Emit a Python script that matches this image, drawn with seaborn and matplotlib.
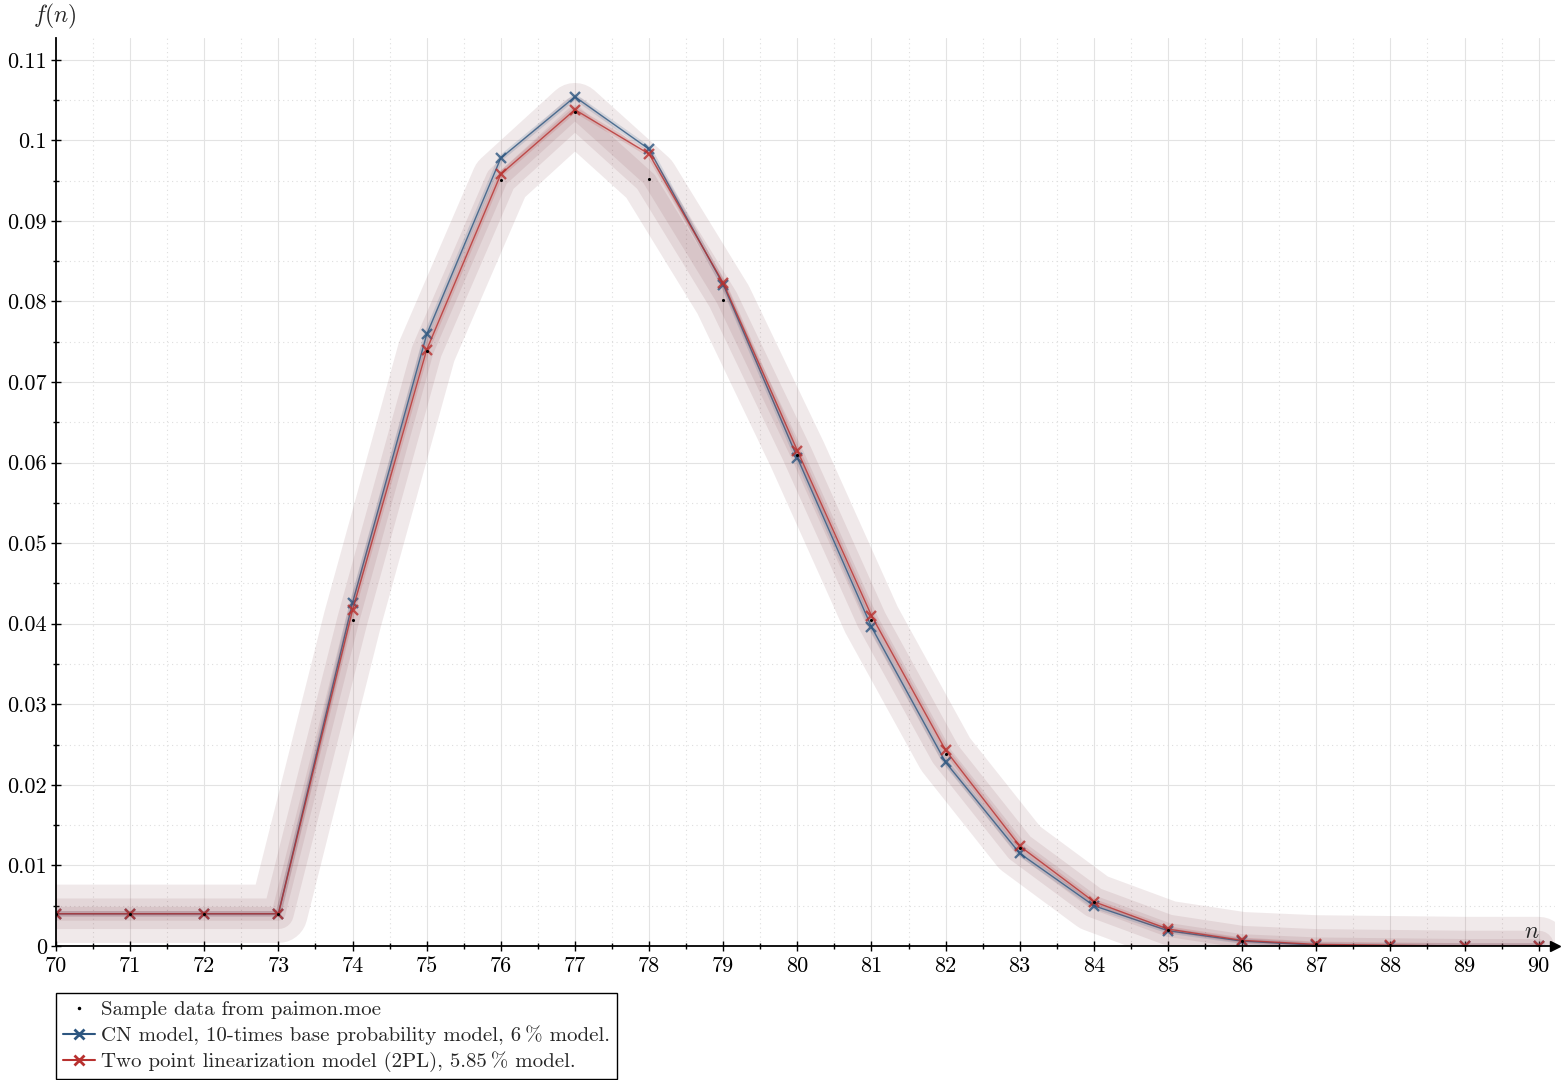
import matplotlib
matplotlib.use('Agg')
import matplotlib.pyplot as plt
from matplotlib.lines import Line2D
from matplotlib.ticker import MultipleLocator, FuncFormatter
import numpy as np
import pandas as pd
import seaborn as sns

# pity counts and probabilities
pulls = list(range(70, 91))
sample = [0.0040, 0.0040, 0.0040, 0.0040, 0.0405, 0.0738, 0.0951, 0.1035, 0.0952,
          0.0802, 0.0610, 0.0405, 0.0238, 0.0122, 0.0054, 0.0020, 0.0006, 0.0002,
          0.0001, 0.0000, 0.0000]
cn_model = [0.0040, 0.0040, 0.0040, 0.0040, 0.0426, 0.0759, 0.0978, 0.1054, 0.0989,
            0.0821, 0.0606, 0.0396, 0.0228, 0.0115, 0.0050, 0.0019, 0.0006, 0.0001,
            0.0000, 0.0000, 0.0000]
tpl_model = [0.0040, 0.0040, 0.0040, 0.0040, 0.0417, 0.0740, 0.0958, 0.1038, 0.0983,
             0.0823, 0.0615, 0.0410, 0.0243, 0.0124, 0.0055, 0.0021, 0.0007, 0.0002,
             0.0001, 0.0000, 0.0000]

labels = ['Sample data from paimon.moe',
          'CN model, 10-times base probability model, 6\u2009% model.',
          'Two point linearization model (2PL), 5.85\u2009% model.']

blue = '#2d5680'
red = '#b8312f'
band = '#8a4e56'

df = pd.DataFrame({'n': pulls, 'sample': sample, 'cn': cn_model, 'tpl': tpl_model})

sns.set_theme(style='white')
plt.rcParams['font.family'] = ['cmr10', 'DejaVu Serif']
plt.rcParams['mathtext.fontset'] = 'cm'
plt.rcParams['axes.unicode_minus'] = False

fig = plt.figure(figsize=(15.61, 10.8), dpi=100)
ax = fig.add_axes([56 / 1561, 134 / 1080, 1499 / 1561, 908 / 1080])

# shaded bands around the sample data (wide translucent strokes)
for lw in [42, 22, 10]:
    sns.lineplot(data=df, x='n', y='sample', ax=ax, color=band, alpha=0.12, lw=lw,
                 solid_capstyle='round', solid_joinstyle='round', estimator=None,
                 sort=False, legend=False)

# model curves with a soft halo
for col, c in [('cn', blue), ('tpl', red)]:
    sns.lineplot(data=df, x='n', y=col, ax=ax, color=c, alpha=0.15, lw=4,
                 solid_joinstyle='round', estimator=None, legend=False)
    sns.lineplot(data=df, x='n', y=col, ax=ax, color=c, lw=1.0, alpha=0.8,
                 marker='x', markersize=7, markeredgewidth=1.7, markeredgecolor=c,
                 estimator=None, legend=False)

sns.scatterplot(data=df, x='n', y='sample', ax=ax, color='black', s=5,
                linewidth=0, zorder=5, legend=False)

ax.set_xlim(70, 90.22)
ax.set_ylim(0, 0.1127)
ax.set_xlabel('')
ax.set_ylabel('')

ax.xaxis.set_major_locator(MultipleLocator(1))
ax.xaxis.set_minor_locator(MultipleLocator(0.5))
ax.yaxis.set_major_locator(MultipleLocator(0.01))
ax.yaxis.set_minor_locator(MultipleLocator(0.005))
ax.yaxis.set_major_formatter(FuncFormatter(lambda v, p: '%g' % round(v, 4)))
ax.xaxis.set_major_formatter(FuncFormatter(lambda v, p: '%d' % v))

ax.grid(True, which='major', color='#e3e3e3', lw=0.8)
ax.grid(True, which='minor', color='#dedede', lw=0.8, ls=(0, (1, 3)))
ax.set_axisbelow(True)

ax.tick_params(which='both', direction='inout', colors='black', labelsize=16,
               bottom=True, left=True, width=1)
ax.tick_params(which='major', length=7)
ax.tick_params(which='minor', length=5)
ax.tick_params(axis='x', pad=4)
ax.tick_params(axis='y', pad=3)

for s in ['top', 'right']:
    ax.spines[s].set_visible(False)
for s in ['left', 'bottom']:
    ax.spines[s].set_color('black')
    ax.spines[s].set_linewidth(1.3)
    ax.spines[s].set_zorder(10)

ax.plot(1.0, 0, '>', color='black', ms=7, transform=ax.get_yaxis_transform(),
        clip_on=False, zorder=11)
ax.plot(0, 1.0, '^', color='black', ms=7, transform=ax.get_xaxis_transform(),
        clip_on=False, zorder=11)

fig.text(55 / 1561, 1 - 16 / 1080, '$f(n)$', fontsize=17, ha='center', va='center')
ax.text(89.8, 0.0018, '$n$', fontsize=17, ha='left', va='center')

handles = [
    Line2D([], [], ls='none', marker='.', color='black', markersize=3),
    Line2D([], [], color=blue, lw=1.5, marker='x', markersize=7, markeredgewidth=2),
    Line2D([], [], color=red, lw=1.5, marker='x', markersize=7, markeredgewidth=2),
]
leg = fig.legend(handles, labels, loc='upper left', bbox_to_anchor=(56 / 1561, 1 - 993 / 1080),
                 borderaxespad=0, fancybox=False, framealpha=1, edgecolor='black',
                 fontsize=15, handlelength=1.5, handletextpad=0.3, labelspacing=0.3,
                 borderpad=0.35)
leg.get_frame().set_linewidth(1)

fig.savefig('out.png', dpi=100)
